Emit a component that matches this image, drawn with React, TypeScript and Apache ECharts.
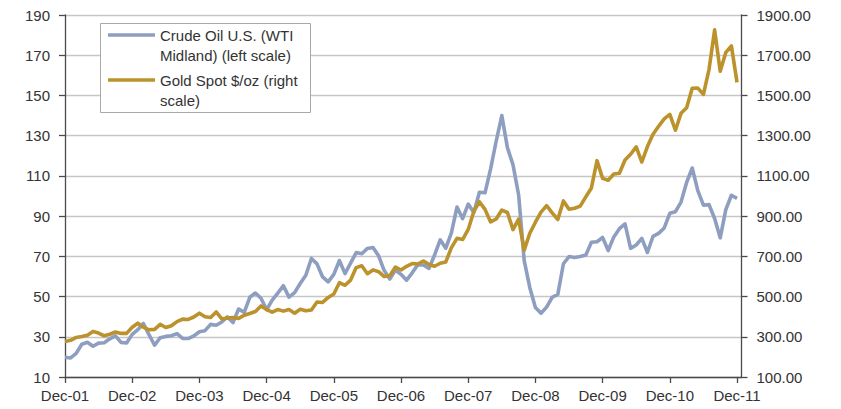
import React, { useEffect, useRef } from "react";
import * as echarts from "echarts";

const tickLabels = ["Dec-01", "Dec-02", "Dec-03", "Dec-04", "Dec-05", "Dec-06", "Dec-07", "Dec-08", "Dec-09", "Dec-10", "Dec-11"];
const seriesNames = ["Crude Oil U.S. (WTI\nMidland) (left scale)", "Gold Spot $/oz (right\nscale)"];

// Month-end values, Dec-01 .. Dec-11
const oil = [
  19.84,
  19.48, 21.74, 26.31, 27.29, 25.31, 26.86, 27.02, 28.98, 30.45, 27.22, 26.89, 31.2,
  33.51, 36.6, 31.04, 25.8, 29.56, 30.19, 30.54, 31.57, 29.2, 29.11, 30.41, 32.52,
  33.05, 36.16, 35.76, 37.38, 39.88, 37.05, 43.8, 42.12, 49.64, 51.76, 49.13, 43.45,
  48.2, 51.75, 55.4, 49.72, 51.97, 56.5, 60.57, 68.94, 66.24, 59.76, 57.32, 61.04,
  67.92, 61.41, 66.63, 71.88, 71.29, 73.93, 74.4, 70.26, 62.91, 58.73, 63.13, 61.05,
  58.14, 61.79, 65.87, 65.71, 64.01, 70.68, 78.21, 74.04, 81.66, 94.53, 88.71, 95.98,
  91.75, 101.84, 101.58, 113.46, 127.35, 140.0, 124.08, 115.46, 100.64, 67.81, 54.43, 44.6,
  41.68, 44.76, 49.66, 51.12, 66.31, 69.89, 69.45, 69.96, 70.61, 77.0, 77.28, 79.36,
  72.89, 79.66, 83.76, 86.15, 73.97, 75.63, 78.95, 71.92, 79.97, 81.43, 84.11, 91.38,
  92.19, 96.97, 106.72, 113.93, 102.7, 95.42, 95.7, 88.81, 79.2, 93.19, 100.36, 98.83,
];

const gold = [
  276.5,
  282.3, 296.85, 301.4, 308.2, 326.6, 318.5, 304.65, 312.8, 323.7, 316.9, 317.05, 347.2,
  367.5, 347.45, 334.85, 336.75, 361.4, 346.0, 354.75, 375.6, 388.0, 386.25, 398.35, 417.25,
  399.75, 395.85, 423.7, 388.5, 393.25, 395.8, 391.4, 407.25, 415.65, 425.55, 453.4, 435.6,
  422.15, 435.45, 427.5, 435.7, 417.25, 437.1, 429.0, 433.25, 473.25, 470.75, 495.65, 513.0,
  568.75, 556.0, 582.0, 644.0, 653.0, 613.5, 632.5, 623.5, 599.25, 603.75, 646.7, 632.0,
  650.5, 664.2, 661.75, 677.0, 659.1, 650.5, 665.5, 672.0, 743.0, 789.5, 783.5, 833.75,
  923.25, 971.5, 933.5, 871.0, 885.75, 930.25, 918.0, 833.0, 884.5, 730.75, 814.5, 869.75,
  919.5, 952.0, 916.5, 883.25, 975.5, 934.5, 939.0, 949.5, 995.75, 1040.0, 1175.75, 1087.5,
  1078.5, 1109.5, 1113.25, 1179.25, 1207.5, 1244.0, 1169.0, 1246.0, 1307.0, 1346.75, 1383.5, 1405.5,
  1327.0, 1411.0, 1439.0, 1535.5, 1536.5, 1505.5, 1628.5, 1826.0, 1620.0, 1714.0, 1746.0, 1565.0,
];

const OIL_COLOR = "#8E9EC0";
const GOLD_COLOR = "#BB922B";
const TEXT_COLOR = "#333333";
const AXIS_COLOR = "#4a4a4a";
const FONT = "'Liberation Sans', Arial, sans-serif";

export default function App() {
  const ref = useRef<HTMLDivElement>(null);

  useEffect(() => {
    document.body.style.margin = "0";
    if (!ref.current) return;
    const chart = echarts.init(ref.current, undefined, { renderer: "svg" });
    const tickVals = tickLabels.map((_, i) => i * 12);
    const option: any = {
      animation: false,
      backgroundColor: "#ffffff",
      textStyle: { fontFamily: FONT },
      grid: { left: 65, right: 99.5, top: 15, bottom: 32, containLabel: false },
      xAxis: {
        type: "value",
        min: 0,
        max: 120.8,
        splitLine: { show: false },
        axisLine: { show: true, lineStyle: { color: AXIS_COLOR, width: 1.3 } },
        axisTick: { show: true, length: 6, customValues: tickVals, lineStyle: { color: AXIS_COLOR, width: 1.3 } },
        axisLabel: {
          customValues: tickVals,
          formatter: (v: number) => tickLabels[Math.round(v / 12)] ?? "",
          color: TEXT_COLOR,
          fontSize: 15,
          fontFamily: FONT,
          margin: 11,
        },
      },
      yAxis: [
        {
          type: "value",
          min: 10,
          max: 190,
          interval: 20,
          position: "left",
          axisLine: { show: true, lineStyle: { color: AXIS_COLOR, width: 1.3 } },
          axisTick: { show: true, length: 6, lineStyle: { color: AXIS_COLOR, width: 1.3 } },
          axisLabel: { color: TEXT_COLOR, fontSize: 15, fontFamily: FONT, margin: 15 },
          splitLine: { show: true, lineStyle: { color: "#c6c6c6", width: 1.3 } },
        },
        {
          type: "value",
          min: 100,
          max: 1900,
          interval: 200,
          position: "right",
          axisLine: { show: true, lineStyle: { color: AXIS_COLOR, width: 1.3 } },
          axisTick: { show: true, length: 6, lineStyle: { color: AXIS_COLOR, width: 1.3 } },
          axisLabel: {
            color: TEXT_COLOR,
            fontSize: 15,
            fontFamily: FONT,
            margin: 15,
            formatter: (v: number) => v.toFixed(2),
          },
          splitLine: { show: false },
        },
      ],
      series: [
        {
          name: seriesNames[0],
          type: "line",
          yAxisIndex: 0,
          data: oil.map((v, i) => [i, v]),
          showSymbol: false,
          symbol: "none",
          lineStyle: { color: OIL_COLOR, width: 3.6, join: "round" },
          itemStyle: { color: OIL_COLOR },
          z: 2,
        },
        {
          name: seriesNames[1],
          type: "line",
          yAxisIndex: 1,
          data: gold.map((v, i) => [i, v]),
          showSymbol: false,
          symbol: "none",
          lineStyle: { color: GOLD_COLOR, width: 3.6, join: "round" },
          itemStyle: { color: GOLD_COLOR },
          z: 3,
        },
      ],
      graphic: [
        {
          type: "rect",
          z: 100,
          zlevel: 1,
          shape: { x: 100.5, y: 23.5, width: 210, height: 89 },
          style: { fill: "#ffffff", stroke: "#a8a8a8", lineWidth: 1 },
        },
        {
          type: "line",
          z: 101,
          zlevel: 1,
          shape: { x1: 108, y1: 35, x2: 155, y2: 35 },
          style: { stroke: OIL_COLOR, lineWidth: 3.6 },
        },
        {
          type: "text",
          z: 101,
          zlevel: 1,
          x: 160,
          y: 25,
          style: {
            text: seriesNames[0],
            fill: TEXT_COLOR,
            fontSize: 15,
            fontFamily: FONT,
            lineHeight: 20.5,
            verticalAlign: "top",
            align: "left",
          },
        },
        {
          type: "line",
          z: 101,
          zlevel: 1,
          shape: { x1: 108, y1: 80, x2: 155, y2: 80 },
          style: { stroke: GOLD_COLOR, lineWidth: 3.6 },
        },
        {
          type: "text",
          z: 101,
          zlevel: 1,
          x: 160,
          y: 69.75,
          style: {
            text: seriesNames[1],
            fill: TEXT_COLOR,
            fontSize: 15,
            fontFamily: FONT,
            lineHeight: 20.5,
            verticalAlign: "top",
            align: "left",
          },
        },
      ],
    };
    chart.setOption(option);
    return () => chart.dispose();
  }, []);

  return (
    <div
      ref={ref}
      style={{ position: "fixed", left: 0, top: 0, width: 841, height: 409, background: "#fff" }}
    />
  );
}
